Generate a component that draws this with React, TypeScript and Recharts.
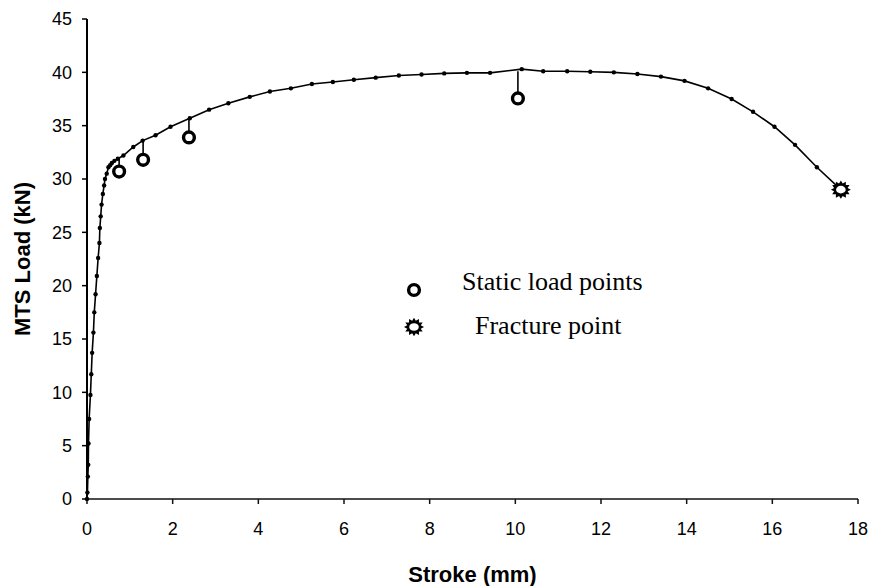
import React from "react";
import {
	ComposedChart,
	Line,
	Scatter,
	XAxis,
	YAxis,
	Customized,
} from "recharts";

// load-stroke curve, sampled points
const strokeMm = [
	0, 0.01, 0.02, 0.03, 0.035, 0.05, 0.08, 0.1, 0.12, 0.15, 0.17, 0.2, 0.23,
	0.26, 0.29, 0.3, 0.32, 0.34, 0.37, 0.4, 0.42, 0.46, 0.5, 0.54, 0.58, 0.64,
	0.72, 0.85, 1.08, 1.3, 1.6, 1.95, 2.4, 2.85, 3.3, 3.8, 4.27, 4.76, 5.25,
	5.74, 6.23, 6.74, 7.28, 7.81, 8.34, 8.87, 9.41, 10.15, 10.65, 11.21, 11.75,
	12.3, 12.85, 13.4, 13.95, 14.5, 15.05, 15.55, 16.05, 16.53, 17.04, 17.6,
];
const loadKn = [
	0, 0.6, 2.1, 3.2, 5.2, 7.5, 9.75, 11.7, 13.7, 15.6, 17.5, 19.2, 20.9, 22.6,
	24.0, 25.4, 26.5, 27.6, 28.6, 29.4, 30.0, 30.5, 31.1, 31.3, 31.5, 31.7, 31.9,
	32.2, 33.0, 33.6, 34.1, 34.9, 35.7, 36.5, 37.1, 37.7, 38.2, 38.5, 38.9, 39.1,
	39.3, 39.5, 39.7, 39.8, 39.9, 39.95, 39.95, 40.3, 40.1, 40.1, 40.05, 40.0,
	39.85, 39.6, 39.2, 38.5, 37.5, 36.3, 34.9, 33.2, 31.1, 29.0,
];

// static holds: where the load relaxed to
const staticStroke = [0.75, 1.31, 2.38, 10.06];
const staticLoad = [30.7, 31.8, 33.9, 37.55];
const holdStartLoad = [31.9, 33.6, 35.7, 40.1];

const fractureStroke = [17.6];
const fractureLoad = [29.0];

const xTicks = [0, 2, 4, 6, 8, 10, 12, 14, 16, 18];
const yTicks = [0, 5, 10, 15, 20, 25, 30, 35, 40, 45];

const curve = strokeMm.map((x, i) => ({ x, y: loadKn[i] }));
const staticPts = staticStroke.map((x, i) => ({ x, y: staticLoad[i] }));
const drops = staticStroke.map((x, i) => [
	{ x, y: holdStartLoad[i] },
	{ x, y: staticLoad[i] },
]);
const fracturePts = fractureStroke.map((x, i) => ({ x, y: fractureLoad[i] }));

const Ring = ({ cx, cy }: any) => (
	<circle cx={cx} cy={cy} r={5.4} fill="#fff" stroke="#000" strokeWidth={3.4} />
);

const Burst = ({ cx, cy }: any) => {
	const n = 12;
	let d = "";
	for (let i = 0; i < n * 2; i++) {
		const a = (Math.PI * i) / n;
		const r = i % 2 === 0 ? 10 : 7;
		d += (i === 0 ? "M" : "L") + (cx + r * Math.cos(a)).toFixed(2) + "," + (cy + r * 0.92 * Math.sin(a)).toFixed(2);
	}
	d += "Z";
	return (
		<g>
			<path d={d} fill="#000" />
			<ellipse cx={cx} cy={cy} rx={4.8} ry={3.8} fill="#fff" />
		</g>
	);
};

const Key = () => (
	<g fontFamily="Liberation Serif" fontSize={26} fill="#000">
		<Ring cx={414} cy={290} />
		<text x={462} y={290}>
			Static load points
		</text>
		<Burst cx={414} cy={327} />
		<text x={475} y={334}>
			Fracture point
		</text>
	</g>
);

const tickStyle = { fontFamily: "Liberation Sans", fontSize: 18, fill: "#000" };
const titleStyle = { fontFamily: "Liberation Sans", fontWeight: "bold", fontSize: 22, fill: "#000" };

export default function App() {
	return (
		<div style={{ position: "absolute", left: 0, top: 0, background: "#fff" }}>
			<ComposedChart
				width={874}
				height={586}
				margin={{ top: 19, right: 16, bottom: 0, left: 0 }}
			>
				<XAxis
					dataKey="x"
					type="number"
					domain={[0, 18]}
					ticks={xTicks}
					height={87}
					tickSize={5}
					tickMargin={18}
					tick={tickStyle}
					axisLine={{ stroke: "#111", strokeWidth: 1.5 }}
					tickLine={{ stroke: "#111", strokeWidth: 1.5 }}
					label={{
						value: "Stroke (mm)",
						position: "insideBottom",
						offset: 4,
						style: titleStyle,
					}}
				/>
				<YAxis
					type="number"
					domain={[0, 45]}
					ticks={yTicks}
					width={87}
					tickSize={5}
					tickMargin={10}
					tick={tickStyle}
					axisLine={{ stroke: "#000", strokeWidth: 2 }}
					tickLine={{ stroke: "#000", strokeWidth: 1.5 }}
					label={{
						value: "MTS Load (kN)",
						angle: -90,
						position: "insideLeft",
						offset: 22,
						style: { ...titleStyle, textAnchor: "middle" },
					}}
				/>
				<Line
					data={curve}
					dataKey="y"
					type="linear"
					stroke="#000"
					strokeWidth={1.6}
					dot={{ r: 2.2, fill: "#000", stroke: "none" }}
					isAnimationActive={false}
				/>
				{drops.map((seg, i) => (
					<Line
						key={i}
						data={seg}
						dataKey="y"
						stroke="#000"
						strokeWidth={1.6}
						dot={false}
						isAnimationActive={false}
					/>
				))}
				<Scatter data={staticPts} dataKey="y" shape={Ring} isAnimationActive={false} />
				<Scatter data={fracturePts} dataKey="y" shape={Burst} isAnimationActive={false} />
				<Customized component={Key} />
			</ComposedChart>
		</div>
	);
}
